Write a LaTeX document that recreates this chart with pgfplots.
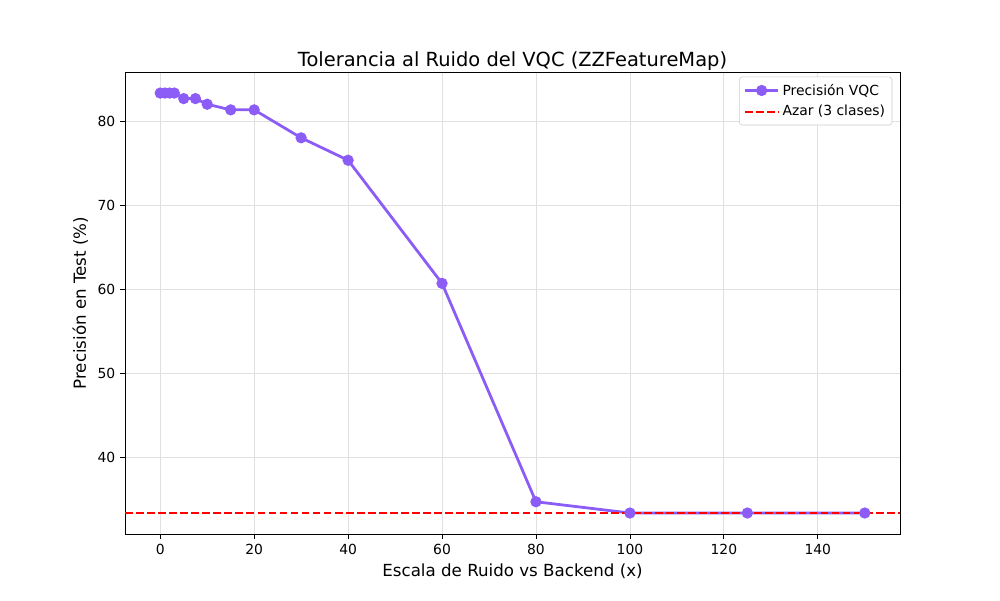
\documentclass[border=0pt]{standalone}
\usepackage{pgfplots}
\pgfplotsset{compat=1.18}
\usepackage{fontspec}
\setmainfont{DejaVu Sans}
\definecolor{vqc}{HTML}{8B5CF6}
\pgfplotsset{markleg/.style={legend image code/.code={\draw[##1] (0pt,0pt) -- (24pt,0pt); \draw[##1, mark repeat=1] plot coordinates {(12pt,0pt)};}},
  dashleg/.style={legend image code/.code={\draw[##1] (0pt,0pt) -- (24pt,0pt);}}}
\begin{document}
\begin{tikzpicture}
\begin{axis}[
  scale only axis,
  width=558pt, height=332.6pt,
  xmin=-7.5, xmax=157.5,
  ymin=30.83, ymax=85.83,
  xtick={0,20,40,60,80,100,120,140},
  ytick={40,50,60,70,80},
  /pgf/number format/assume math mode=true,
  tick label style={font=\fontsize{10}{12}\selectfont},
  tick align=outside,
  major tick length=3.5pt,
  tick style={black, line width=0.6pt},
  axis line style={line width=0.6pt},
  xtick pos=bottom, ytick pos=left,
  grid=major,
  grid style={black!12, line width=0.6pt},
  xlabel={Escala de Ruido vs Backend (x)},
  ylabel={Precisión en Test (\%)},
  label style={font=\fontsize{12}{14}\selectfont},
  title={Tolerancia al Ruido del VQC (ZZFeatureMap)},
  title style={font=\fontsize{14}{17}\selectfont, yshift=-8.5pt},
  legend style={font=\fontsize{10}{12}\selectfont, draw=black!20, rounded corners=2pt, inner sep=3pt, row sep=2pt, at={(0.99,0.99)}, anchor=north east},
  legend cell align=left,
]
\addplot[color=vqc, line width=2pt, mark=*, mark size=3pt, mark options={solid, fill=vqc, draw=vqc}, markleg] coordinates {
(0,83.33) (1,83.33) (2,83.33) (3,83.33) (5,82.67) (7.5,82.67) (10,82.0) (15,81.33) (20,81.33) (30,78.0) (40,75.33) (60,60.67) (80,34.67) (100,33.33) (125,33.33) (150,33.33)
};
\addlegendentry{Precisión VQC}
\addplot[red, line width=1.5pt, dash pattern=on 5.55pt off 2.4pt, dashleg] coordinates {(-7.5,33.33) (157.5,33.33)};
\addlegendentry{Azar (3 clases)}
\end{axis}
\path[use as bounding box] (current axis.south west) ++(-90pt,-47.52pt) rectangle ++(720pt,432pt);
\end{tikzpicture}
\end{document}
